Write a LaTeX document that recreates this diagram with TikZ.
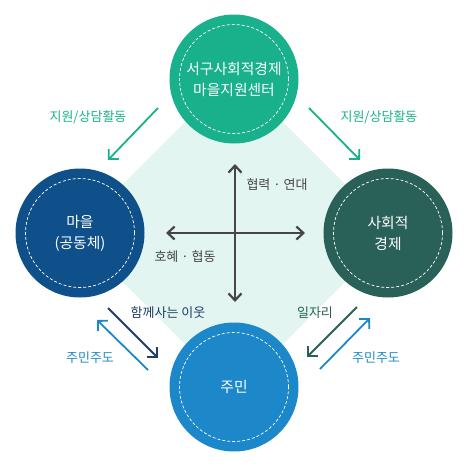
\documentclass[tikz,border=0pt]{standalone}
\usepackage{fontspec}
\setmainfont{Noto Sans CJK KR}
\usetikzlibrary{arrows.meta,positioning}
\definecolor{centercol}{RGB}{24,177,139}
\definecolor{villagecol}{RGB}{15,79,138}
\definecolor{neighbourcol}{RGB}{30,62,98}
\definecolor{socialcol}{RGB}{41,96,88}
\definecolor{peoplecol}{RGB}{28,136,201}
\definecolor{mintcol}{RGB}{226,245,240}
\definecolor{crosscol}{RGB}{70,70,70}

\begin{document}
\begin{tikzpicture}[
  x=1pt, y=-1pt,
  hub/.style={circle, minimum size=129pt, inner sep=0pt, text=white, align=center,
              font=\fontsize{14.8}{21}\selectfont},
  ring/.style={draw=white, dash pattern=on 3pt off 2pt, line width=0.7pt},
  link/.style={-{Straight Barb[length=7pt,width=14pt]}, line width=1.8pt},
  cross/.style={{Straight Barb[length=7pt,width=13pt]}-{Straight Barb[length=7pt,width=13pt]},
                line width=2.2pt, draw=crosscol},
  lbl/.style={font=\fontsize{13}{15}\selectfont},
  ]
  \useasboundingbox (0,0) rectangle (468,469);
  % background diamond
  \fill[mintcol] (234,73) -- (394,233) -- (234,393) -- (74,233) -- cycle;

  % four circles
  \node[hub, fill=centercol] (center) at (234,79) {서구사회적경제\\마을지원센터};
  \node[hub, fill=villagecol] (village) at (80,233) {마을\\(공동체)};
  \node[hub, fill=socialcol] (social) at (388,233) {사회적\\경제};
  \node[hub, fill=peoplecol] (people) at (234,387) {주민};
  \foreach \n in {center,village,social,people}
    \draw[ring] (\n) circle (54.5pt);

  % cross in the middle
  \coordinate (up) at (235,164);
  \coordinate (down) at (235,302);
  \coordinate (lt) at (166,233);
  \coordinate (rt) at (305,233);
  \draw[cross] (up) -- (down);
  \draw[cross] (lt) -- (rt);
  \node[lbl, text=crosscol] (coop) at (277,185) {협력 · 연대};
  \node[lbl, text=crosscol] (mutual) at (185,257) {호혜 · 협동};

  % support arrows from the centre
  \coordinate (tla) at (158,108);
  \coordinate (tlb) at (108,160);
  \coordinate (tra) at (309,108);
  \coordinate (trb) at (360,160);
  \draw[link, centercol] (tla) -- (tlb);
  \draw[link, centercol] (tra) -- (trb);
  \node[lbl, text=centercol] (supl) at (88,117) {지원/상담활동};
  \node[lbl, text=centercol] (supr) at (379,117) {지원/상담활동};

  % bottom left pair
  \coordinate (bla) at (108,308);
  \coordinate (blb) at (158,358);
  \coordinate (blc) at (148,370);
  \coordinate (bld) at (97,320);
  \draw[link, neighbourcol] (bla) -- (blb);
  \draw[link, peoplecol] (blc) -- (bld);
  \node[lbl, text=neighbourcol] (neigh) at (168,313) {함께사는 이웃};
  \node[lbl, text=peoplecol] (leadl) at (90,358) {주민주도};

  % bottom right pair
  \coordinate (bra) at (357,307);
  \coordinate (brb) at (307,357);
  \coordinate (brc) at (320,369);
  \coordinate (brd) at (370,318);
  \draw[link, socialcol] (bra) -- (brb);
  \draw[link, peoplecol] (brc) -- (brd);
  \node[lbl, text=socialcol] (jobs) at (315,313) {일자리};
  \node[lbl, text=peoplecol] (leadr) at (376,358) {주민주도};
\end{tikzpicture}
\end{document}
